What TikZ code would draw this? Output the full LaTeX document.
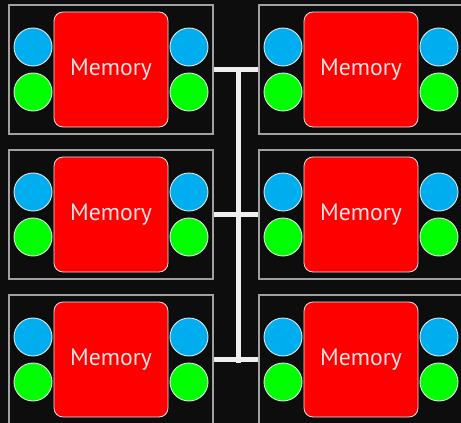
\documentclass[tikz,border=0pt]{standalone}
\usepackage{fontspec}
\setmainfont{PT Sans}
\definecolor{bg}{HTML}{0D0D0D}
\definecolor{boxline}{HTML}{A0A0A0}
\definecolor{memred}{HTML}{FF0000}
\definecolor{cblue}{HTML}{00AEEF}
\definecolor{cgreen}{HTML}{00FF00}
\definecolor{busc}{HTML}{EFEFEF}
\definecolor{memtext}{HTML}{FFE2E2}
\tikzset{
  unitbox/.style={draw=boxline, line width=1.4pt, minimum width=204pt, minimum height=129pt, inner sep=0pt},
  membox/.style={draw=white!80!gray, line width=0.8pt, fill=memred, rounded corners=9pt, minimum width=114pt, minimum height=115pt, inner sep=0pt, text=memtext, font=\fontsize{23.7}{26}\selectfont},
  portb/.style={circle, draw=white!80!gray, line width=0.9pt, fill=cblue, minimum size=38pt, inner sep=0pt},
  portg/.style={circle, draw=white!80!gray, line width=0.9pt, fill=cgreen, minimum size=38pt, inner sep=0pt},
  bus/.style={draw=busc, line width=5pt}
}
\begin{document}
\begin{tikzpicture}[x=1pt,y=-1pt]
\fill[bg] (0,0) rectangle (461,423);
\useasboundingbox (0,0) rectangle (461,423);
\foreach \r in {0,1,2}{
  \foreach \c in {0,1}{
    \pgfmathsetmacro{\ox}{250*\c}
    \pgfmathsetmacro{\oy}{145*\r}
    \node[unitbox] (b-\r-\c) at (111+\ox,69.5+\oy) {};
    \node[membox] (m-\r-\c) at (111+\ox,69.5+\oy) {Memory};
    \node[portb] (lb-\r-\c) at (33+\ox,47+\oy) {};
    \node[portg] (lg-\r-\c) at (33+\ox,92+\oy) {};
    \node[portb] (rb-\r-\c) at (189+\ox,47+\oy) {};
    \node[portg] (rg-\r-\c) at (189+\ox,92+\oy) {};
  }
}
\coordinate (bustop) at (238.5,67.5);
\coordinate (busbot) at (238.5,362.5);
\draw[bus] (bustop) -- (busbot);
\foreach \r in {0,1,2}{
  \draw[bus] (b-\r-0.east) -- (b-\r-1.west);
}
\end{tikzpicture}
\end{document}
